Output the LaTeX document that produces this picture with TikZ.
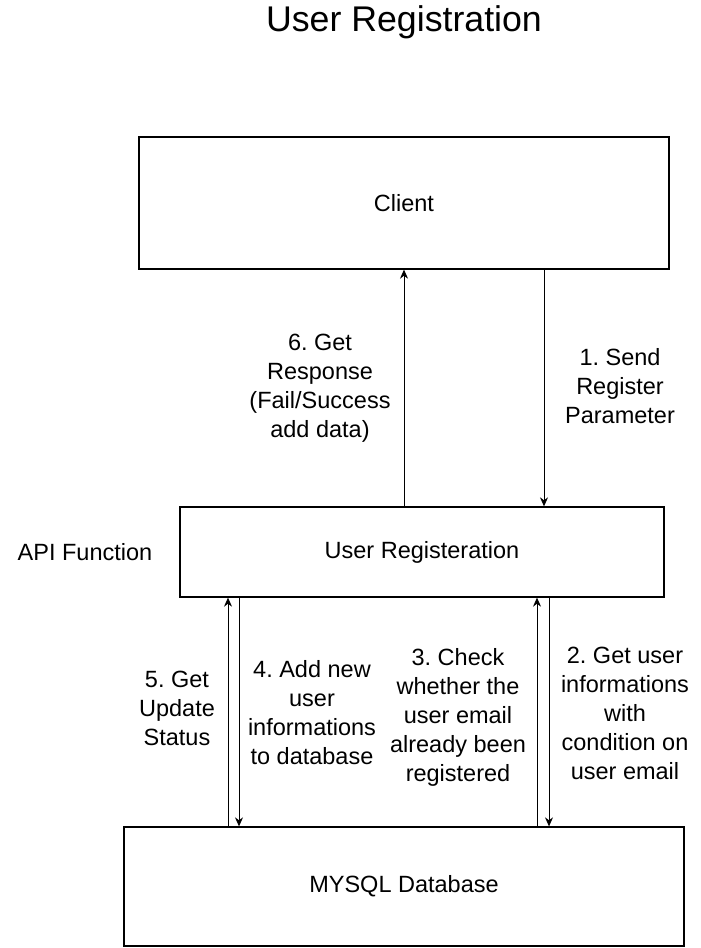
\documentclass[tikz,border=0pt]{standalone}
\usepackage{fontspec}
\setmainfont{Liberation Sans}
\usetikzlibrary{arrows.meta}
\frenchspacing
\begin{document}
\begin{tikzpicture}[x=1pt,y=-1pt,
  box/.style={draw,line width=1.3pt,inner sep=0pt,font=\fontsize{23.5}{29}\selectfont},
  lbl/.style={align=center,inner sep=0pt,font=\fontsize{23.5}{29}\selectfont},
  arr/.style={line width=0.9pt,-{Stealth[length=9pt,width=8pt]}}]
\useasboundingbox (0,0) rectangle (701,948);
\node[inner sep=0pt,font=\fontsize{35.7}{40}\selectfont] (title) at (404,22) {User Registration};
\node[box,minimum width=530pt,minimum height=132pt] (client) at (404,203) {Client};
\node[box,minimum width=484pt,minimum height=90pt] (ur) at (422,552) {\raisebox{-2pt}{User Registeration}};
\node[box,minimum width=560pt,minimum height=119pt] (db) at (404,886.5) {MYSQL Database};
\coordinate (xa) at (404,0);
\coordinate (xb) at (544,0);
\coordinate (xc) at (228,0);
\coordinate (xd) at (239,0);
\coordinate (xe) at (537,0);
\coordinate (xf) at (549,0);
\draw[arr] (xa |- ur.north) -- (xa |- client.south);
\draw[arr] (xb |- client.south) -- (xb |- ur.north);
\draw[arr] (xc |- db.north) -- (xc |- ur.south);
\draw[arr] (xd |- ur.south) -- (xd |- db.north);
\draw[arr] (xe |- db.north) -- (xe |- ur.south);
\draw[arr] (xf |- ur.south) -- (xf |- db.north);
\node[lbl] (l6) at (320,388) {6. Get\\Response\\(Fail/Success\\add data)};
\node[lbl] (l1) at (620,386) {1. Send\\Register\\Parameter};
\node[lbl] (api) at (85,552) {API Function};
\node[lbl] (l5) at (177,708) {5. Get\\Update\\Status};
\node[lbl] (l4) at (312,713) {4. Add new\\user\\informations\\to database};
\node[lbl] (l3) at (458,717) {3. Check\\whether the\\user email\\already been\\registered};
\node[lbl] (l2) at (625,713) {2. Get user\\informations\\with\\condition on\\user email};
\end{tikzpicture}
\end{document}
